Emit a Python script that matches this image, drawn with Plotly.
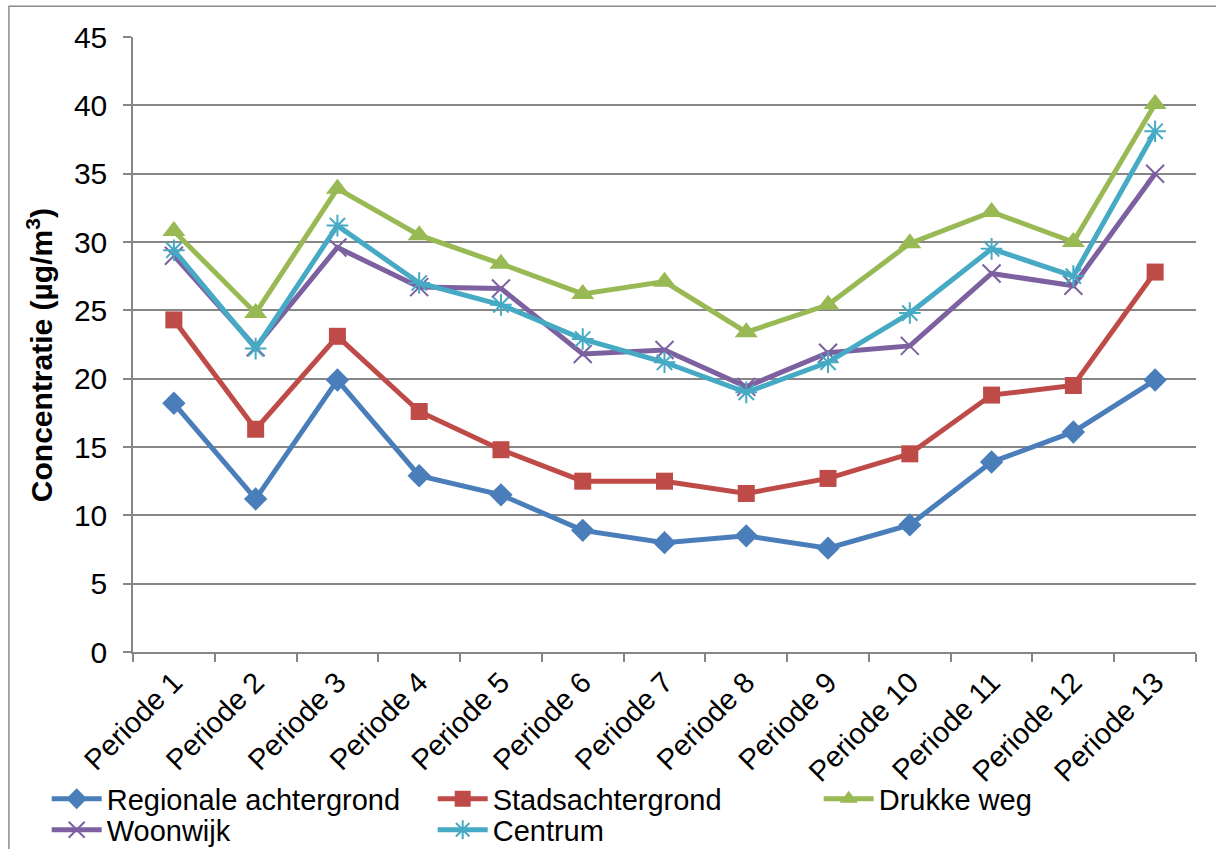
import plotly.graph_objects as go

# Measurement periods along the x axis
periods = [f"Periode {i}" for i in range(1, 14)]

# Mean concentrations per station type (µg/m³)
regionale_achtergrond = [18.2, 11.2, 19.9, 12.9, 11.5, 8.9, 8.0, 8.5, 7.6, 9.3, 13.9, 16.1, 19.9]
stadsachtergrond = [24.3, 16.3, 23.1, 17.6, 14.8, 12.5, 12.5, 11.6, 12.7, 14.5, 18.8, 19.5, 27.8]
drukke_weg = [30.8, 24.8, 33.9, 30.5, 28.4, 26.2, 27.1, 23.4, 25.4, 29.9, 32.2, 30.0, 40.1]
woonwijk = [29.0, 22.3, 29.6, 26.7, 26.6, 21.8, 22.1, 19.4, 21.9, 22.4, 27.7, 26.8, 35.0]
centrum = [29.4, 22.2, 31.2, 27.0, 25.4, 22.9, 21.2, 19.0, 21.2, 24.8, 29.5, 27.5, 38.1]

FONT = "Liberation Sans, Arial, sans-serif"
GRID = "#868686"

# name, values, colour, marker symbol, marker size, marker outline width, legend row
series = [
    ("Regionale achtergrond", regionale_achtergrond, "#4A7EBB", "diamond", 18, 0, "legend"),
    ("Stadsachtergrond", stadsachtergrond, "#BE4B48", "square", 17, 0, "legend"),
    ("Drukke weg", drukke_weg, "#98B954", "triangle-up", 20, 0, "legend"),
    ("Woonwijk", woonwijk, "#7D60A0", "x-thin-open", 18, 2, "legend2"),
    ("Centrum", centrum, "#46AAC5", "asterisk-open", 18, 2, "legend2"),
]

fig = go.Figure()
for name, values, color, symbol, size, mlw, leg in series:
    fig.add_trace(go.Scatter(
        x=periods,
        y=values,
        name=name,
        legend=leg,
        mode="lines+markers",
        line=dict(color=color, width=5),
        marker=dict(symbol=symbol, size=size, color=color,
                    line=dict(color=color, width=mlw)),
    ))

legend_style = dict(
    orientation="h",
    x=-0.0812,
    xanchor="left",
    yanchor="middle",
    entrywidth=321,
    entrywidthmode="pixels",
    font=dict(family=FONT, size=29, color="black"),
    itemwidth=50,
    bgcolor="rgba(0,0,0,0)",
)

fig.update_layout(
    width=1216,
    height=849,
    margin=dict(l=133, r=20, t=37, b=197, autoexpand=False),
    paper_bgcolor="white",
    plot_bgcolor="white",
    font=dict(family=FONT, size=29, color="black"),
    showlegend=True,
    legend=dict(y=-0.2389, **legend_style),
    legend2=dict(y=-0.2893, **legend_style),
    xaxis=dict(
        type="category",
        range=[-0.5, 12.5],
        tickson="boundaries",
        ticks="outside",
        ticklen=8,
        tickwidth=1.5,
        tickcolor=GRID,
        showline=True,
        linecolor=GRID,
        linewidth=1.5,
        showgrid=False,
        tickangle=-45,
        tickfont=dict(family=FONT, size=29),
    ),
    yaxis=dict(
        range=[0, 45],
        dtick=5,
        tick0=0,
        ticks="outside",
        ticklen=8,
        tickwidth=1.5,
        tickcolor=GRID,
        ticklabelstandoff=10,
        showline=True,
        linecolor=GRID,
        linewidth=1.5,
        showgrid=True,
        gridcolor=GRID,
        gridwidth=1.5,
        zeroline=False,
        tickfont=dict(family=FONT, size=30),
    ),
    annotations=[
        # y-axis title
        dict(text="<b>Concentratie (µg/m<sup>3</sup>)</b>",
             xref="paper", yref="paper", x=-0.0875, y=0.4827,
             xanchor="center", yanchor="middle", textangle=-90,
             showarrow=False, font=dict(family=FONT, size=30, color="black")),
    ],
    shapes=[
        # outer chart border
        dict(type="rect", xref="paper", yref="paper",
             x0=-0.1167, x1=1.2, y0=-0.6, y1=1.0499,
             line=dict(color="#8C8C8C", width=1.5), fillcolor="rgba(0,0,0,0)",
             layer="below"),
    ],
)

fig.write_html("out.html")
